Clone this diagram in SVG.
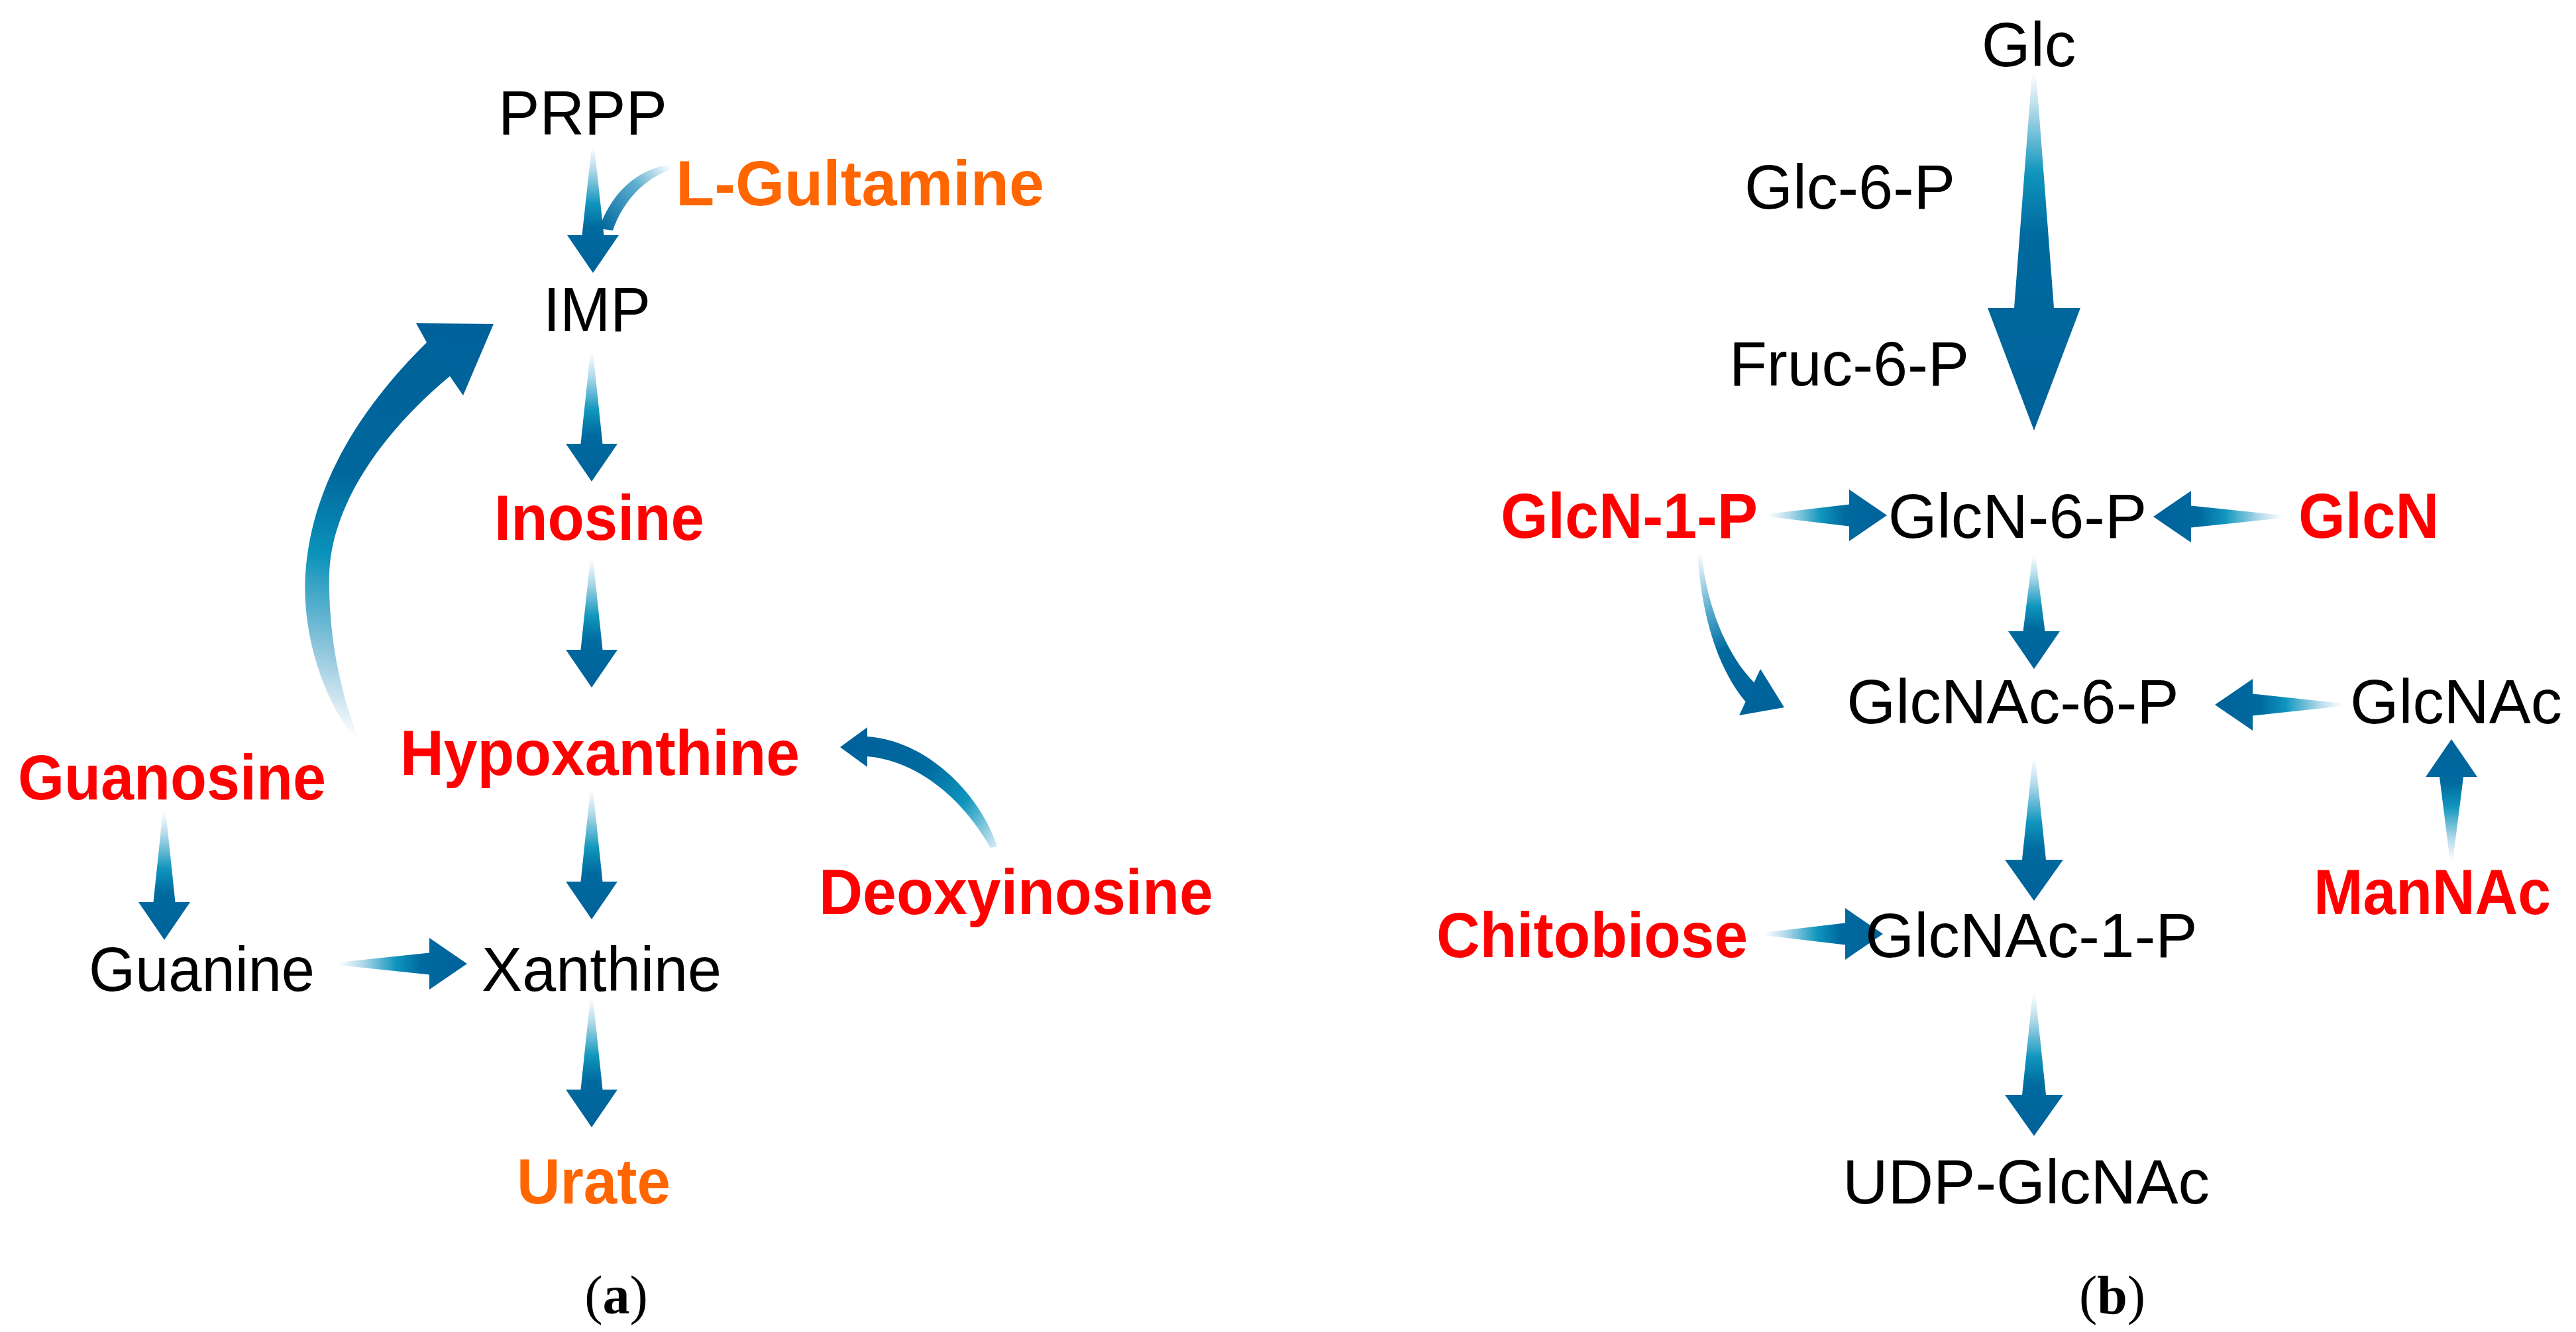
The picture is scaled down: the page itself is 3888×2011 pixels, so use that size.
<svg xmlns="http://www.w3.org/2000/svg" width="3888" height="2011" viewBox="0 0 3888 2011">
<style>
.r{font-family:"Liberation Sans",Arial,sans-serif;font-weight:bold;font-size:97px;fill:#ff0000}
.o{font-family:"Liberation Sans",Arial,sans-serif;font-weight:bold;font-size:97px;fill:#ff6600}
.k{font-family:"Liberation Sans",Arial,sans-serif;font-size:95px;fill:#000000}
.cap{font-family:"Liberation Serif","Times New Roman",serif;font-size:82px;fill:#000000}
.ar{fill:url(#ga)}
</style>
<defs>
<linearGradient id="ga" x1="0" y1="0" x2="0" y2="1">
<stop offset="0" stop-color="#ffffff"/>
<stop offset="0.18" stop-color="#b4dbea"/>
<stop offset="0.45" stop-color="#0f95bd"/>
<stop offset="0.64" stop-color="#006a9f"/>
<stop offset="1" stop-color="#00629a"/>
</linearGradient>
<linearGradient id="gbig" x1="0" y1="0" x2="0" y2="1">
<stop offset="0" stop-color="#ffffff"/>
<stop offset="0.1" stop-color="#b4dbea"/>
<stop offset="0.28" stop-color="#0f95bd"/>
<stop offset="0.45" stop-color="#006a9f"/>
<stop offset="1" stop-color="#00629a"/>
</linearGradient>
<linearGradient id="gcurveA" gradientUnits="userSpaceOnUse" x1="536" y1="1115" x2="660" y2="500">
<stop offset="0" stop-color="#ffffff"/>
<stop offset="0.2" stop-color="#8cc4dc"/>
<stop offset="0.42" stop-color="#0a92ba"/>
<stop offset="0.62" stop-color="#00679c"/>
<stop offset="1" stop-color="#00629a"/>
</linearGradient>
<linearGradient id="gcurveD" gradientUnits="userSpaceOnUse" x1="1505" y1="1278" x2="1290" y2="1125">
<stop offset="0" stop-color="#d6ecf4"/>
<stop offset="0.3" stop-color="#0f95bd"/>
<stop offset="0.6" stop-color="#006a9f"/>
<stop offset="1" stop-color="#00629a"/>
</linearGradient>
<linearGradient id="gcurveL" gradientUnits="userSpaceOnUse" x1="1012" y1="250" x2="905" y2="345">
<stop offset="0" stop-color="#ffffff"/>
<stop offset="0.4" stop-color="#5fb0d0"/>
<stop offset="1" stop-color="#00659c"/>
</linearGradient>
<linearGradient id="gcurveG" gradientUnits="userSpaceOnUse" x1="2565" y1="835" x2="2692" y2="1068">
<stop offset="0" stop-color="#ffffff"/>
<stop offset="0.3" stop-color="#5fb0d0"/>
<stop offset="0.55" stop-color="#006a9f"/>
<stop offset="1" stop-color="#00629a"/>
</linearGradient>
</defs>
<rect width="3888" height="2011" fill="#ffffff"/>

<g id="connectors">
<!-- panel a -->
<path class="ar" transform="translate(895,222)" d="M-2,0 L2,0 L16.5,133 L39,133 L0,190 L-39,133 L-16.5,133Z"/>
<path fill="url(#gcurveL)" d="M1012,248 C962,256 925,288 904,345 L925,348 C940,304 972,270 1012,256Z"/>
<path class="ar" transform="translate(893,532)" d="M-2,0 L2,0 L16.5,138 L39,138 L0,195 L-39,138 L-16.5,138Z"/>
<path class="ar" transform="translate(893,843)" d="M-2,0 L2,0 L16.5,138 L39,138 L0,195 L-39,138 L-16.5,138Z"/>
<path class="ar" transform="translate(893,1193)" d="M-2,0 L2,0 L16.5,138 L39,138 L0,195 L-39,138 L-16.5,138Z"/>
<path class="ar" transform="translate(893,1507)" d="M-2,0 L2,0 L16.5,138 L39,138 L0,195 L-39,138 L-16.5,138Z"/>
<path class="ar" transform="translate(248,1224)" d="M-2,0 L2,0 L16.5,138 L39,138 L0,195 L-39,138 L-16.5,138Z"/>
<path class="ar" transform="translate(510,1455) rotate(-90)" d="M-2,0 L2,0 L16.5,138 L39,138 L0,195 L-39,138 L-16.5,138Z"/>
<path fill="url(#gcurveA)" d="M644,517 C560,600 470,720 461,867 C455,960 490,1060 536,1115 L540,1112 C515,1050 495,960 497,867 C500,760 580,650 679,568 L699,597 L745,489 L628,488 Z"/>
<path fill="url(#gcurveD)" d="M1505,1278 C1480,1200 1400,1118 1309,1112 L1309,1098 L1268,1128 L1309,1158 L1309,1142 C1380,1148 1450,1200 1495,1280 Z"/>
<!-- panel b -->
<path fill="url(#gbig)" transform="translate(3070,110)" d="M-3,0 L3,0 L30,355 L70,355 L0,540 L-70,355 L-30,355Z"/>
<path class="ar" transform="translate(2668,778) rotate(-90)" d="M-2,0 L2,0 L16.5,123 L39,123 L0,180 L-39,123 L-16.5,123Z"/>
<path class="ar" transform="translate(3446,780) rotate(90)" d="M-2,0 L2,0 L16.5,139 L39,139 L0,196 L-39,139 L-16.5,139Z"/>
<path class="ar" transform="translate(3070,838)" d="M-2,0 L2,0 L16.5,115 L39,115 L0,172 L-39,115 L-16.5,115Z"/>
<path class="ar" transform="translate(3536,1064) rotate(90)" d="M-2,0 L2,0 L16.5,136 L39,136 L0,193 L-39,136 L-16.5,136Z"/>
<path class="ar" transform="translate(3700,1300) rotate(180)" d="M-2,0 L2,0 L18,127 L39,127 L0,184 L-39,127 L-18,127Z"/>
<path fill="url(#gcurveG)" d="M2562,835 C2568,930 2593,1010 2634.6,1059.6 L2625,1080 L2693,1068 L2657,1010 L2647.4,1030.4 C2613,995 2578,930 2568,835 Z"/>
<path class="ar" transform="translate(3070,1145)" d="M-2,0 L2,0 L18,153 L44,153 L0,215 L-44,153 L-18,153Z"/>
<path class="ar" transform="translate(2662,1410) rotate(-90)" d="M-2,0 L2,0 L16.5,123 L39,123 L0,180 L-39,123 L-16.5,123Z"/>
<path class="ar" transform="translate(3070,1500)" d="M-2,0 L2,0 L18,153 L44,153 L0,215 L-44,153 L-18,153Z"/>
</g>

<g id="node-prpp"><text class="k" x="752" y="203" textLength="255" lengthAdjust="spacingAndGlyphs">PRPP</text></g>
<g id="node-lglutamine"><text class="o" x="1020" y="310" textLength="556" lengthAdjust="spacingAndGlyphs">L-Gultamine</text></g>
<g id="node-imp"><text class="k" x="820" y="500" textLength="162" lengthAdjust="spacingAndGlyphs">IMP</text></g>
<g id="node-inosine"><text class="r" x="746" y="815" textLength="317" lengthAdjust="spacingAndGlyphs">Inosine</text></g>
<g id="node-hypoxanthine"><text class="r" x="604" y="1170" textLength="603" lengthAdjust="spacingAndGlyphs">Hypoxanthine</text></g>
<g id="node-guanosine"><text class="r" x="27" y="1207" textLength="465" lengthAdjust="spacingAndGlyphs">Guanosine</text></g>
<g id="node-deoxyinosine"><text class="r" x="1236" y="1380" textLength="595" lengthAdjust="spacingAndGlyphs">Deoxyinosine</text></g>
<g id="node-guanine"><text class="k" x="134" y="1496" textLength="341" lengthAdjust="spacingAndGlyphs">Guanine</text></g>
<g id="node-xanthine"><text class="k" x="727" y="1496" textLength="362" lengthAdjust="spacingAndGlyphs">Xanthine</text></g>
<g id="node-urate"><text class="o" x="780" y="1817" textLength="232" lengthAdjust="spacingAndGlyphs">Urate</text></g>
<g id="label-a"><text class="cap" x="930" y="1983" text-anchor="middle">(<tspan font-weight="bold">a</tspan>)</text></g>

<g id="node-glc"><text class="k" x="3062" y="100" text-anchor="middle">Glc</text></g>
<g id="node-glc6p"><text class="k" x="2633" y="315" textLength="318" lengthAdjust="spacingAndGlyphs">Glc-6-P</text></g>
<g id="node-fruc6p"><text class="k" x="2610" y="582" textLength="362" lengthAdjust="spacingAndGlyphs">Fruc-6-P</text></g>
<g id="node-glcn1p"><text class="r" x="2265" y="812" textLength="388" lengthAdjust="spacingAndGlyphs">GlcN-1-P</text></g>
<g id="node-glcn6p"><text class="k" x="3045" y="812" text-anchor="middle">GlcN-6-P</text></g>
<g id="node-glcn"><text class="r" x="3469" y="812" textLength="212" lengthAdjust="spacingAndGlyphs">GlcN</text></g>
<g id="node-glcnac6p"><text class="k" x="3038" y="1092" text-anchor="middle">GlcNAc-6-P</text></g>
<g id="node-glcnac"><text class="k" x="3547" y="1092" textLength="320" lengthAdjust="spacingAndGlyphs">GlcNAc</text></g>
<g id="node-mannac"><text class="r" x="3492" y="1380" textLength="358" lengthAdjust="spacingAndGlyphs">ManNAc</text></g>
<g id="node-chitobiose"><text class="r" x="2168" y="1445" textLength="470" lengthAdjust="spacingAndGlyphs">Chitobiose</text></g>
<g id="node-glcnac1p"><text class="k" x="3066" y="1445" text-anchor="middle">GlcNAc-1-P</text></g>
<g id="node-udpglcnac"><text class="k" x="3058" y="1817" text-anchor="middle">UDP-GlcNAc</text></g>
<g id="label-b"><text class="cap" x="3188" y="1983" text-anchor="middle">(<tspan font-weight="bold">b</tspan>)</text></g>
</svg>
